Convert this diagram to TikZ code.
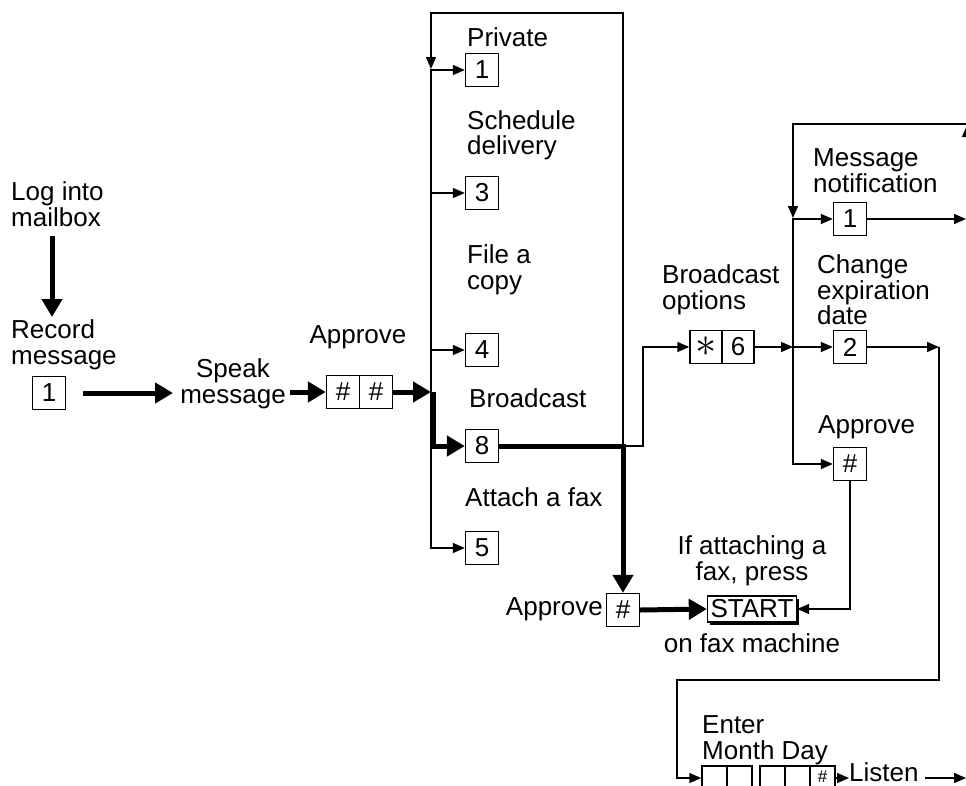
\documentclass[tikz,border=0pt]{standalone}
\usepackage{fontspec}
\setmainfont{Liberation Sans}
\usetikzlibrary{arrows.meta,shadows}
\begin{document}
\begin{tikzpicture}[x=1pt,y=-1pt,
  txt/.style={inner sep=0pt, font=\fontsize{26}{25.5}\selectfont},
  keybox/.style={draw, line width=1.4pt, minimum width=33pt, minimum height=33pt, inner sep=0pt, font=\fontsize{26}{26}\selectfont},
  datebox/.style={draw, line width=1.4pt, minimum width=25pt, minimum height=24pt, inner sep=0pt},
  ln/.style={line width=1.4pt},
  lnarr/.style={ln, -{Triangle[length=12pt,width=10pt]}},
  thk/.style={line width=5pt},
  thkarr/.style={thk, -{Triangle[length=18pt,width=20pt]}}]
\useasboundingbox (0,0) rectangle (966,785);
\clip (0,0) rectangle (966,785);

% left part
\node[txt,anchor=west,align=left] (login) at (11,204) {Log into\\mailbox};
\node[txt,anchor=west,align=left] (record) at (11,345) {Record\\message};
\node[keybox] (r1) at (49,393) {1};
\node[txt,align=center] (speak) at (233,384) {Speak\\message};
\node[txt] (apv1) at (358,337) {Approve};
\node[keybox] (ha) at (343,392) {\#};
\node[keybox] (hb) at (376,392) {\#};

% options column
\node[txt,anchor=west] (tpriv) at (467,37) {Private};
\node[keybox] (p1) at (482,70) {1};
\node[txt,anchor=west,align=left] (tsched) at (467,135.5) {Schedule\\delivery};
\node[keybox] (p3) at (482,193) {3};
\node[txt,anchor=west,align=left] (tfile) at (467,270) {File a\\copy};
\node[keybox] (p4) at (482,350) {4};
\node[txt,anchor=west] (tbroad) at (469,398) {Broadcast};
\node[keybox] (p8) at (482,446) {8};
\node[txt,anchor=west] (tattach) at (465,497) {Attach a fax};
\node[keybox] (p5) at (482,548) {5};

% approve / start
\node[keybox] (hl) at (623,610) {\#};
\node[txt,anchor=east] (apv2) at (603,609) {Approve};
\node[keybox, minimum width=89pt, minimum height=26pt, fill=white,
      drop shadow={shadow xshift=2.5pt, shadow yshift=-2.5pt, opacity=1, fill=black}] (start) at (752,609) {START};
\node[txt,align=center] (ifatt) at (752,561) {If attaching a\\fax, press};
\node[txt] (onfax) at (752,643) {on fax machine};

% broadcast options
\node[txt,anchor=west,align=left] (bopt) at (662,290) {Broadcast\\options};
\node[keybox,minimum width=32pt] (s1) at (706,347) {\scalebox{1.7}{$\ast$}};
\node[keybox,minimum width=32pt] (s2) at (738,347) {6};
\node[txt,anchor=west,align=left] (mnot) at (813,170.5) {Message\\notification};
\node[keybox] (n1) at (850,219) {1};
\node[txt,anchor=west,align=left] (cexp) at (817,290) {Change\\expiration\\date};
\node[keybox] (c2) at (850,347) {2};
\node[txt,anchor=west] (apv3) at (818,427) {Approve};
\node[keybox] (hr) at (850,464) {\#};

% date entry
\node[txt,anchor=west,align=left] (enter) at (702,740) {Enter\\Month Day};
\node[datebox] (e1) at (714.5,778) {};
\node[datebox] (e2) at (739.5,778) {};
\node[datebox] (e3) at (772.5,778) {};
\node[datebox] (e4) at (797.5,778) {};
\node[datebox] (e5) at (822.5,778) {};
\node[inner sep=0pt, font=\fontsize{17}{17}\selectfont] (e5t) at (822.5,777) {\#};
\node[txt,anchor=west] (listen) at (849,772) {Listen};

% coordinates
\coordinate (lgA) at (52,236);
\coordinate (lgB) at (52,317);
\coordinate (spkin) at (173,393);
\coordinate (spkout) at (290,392);
\coordinate (busin) at (431,392);
\coordinate (busv) at (433,392);
\coordinate (lbTop) at (431,13);
\coordinate (rbTop) at (623,13);
\coordinate (j8) at (623,446);
\coordinate (lbArr) at (431,69);
\coordinate (bo) at (643,446);
\coordinate (rbL) at (793,124);
\coordinate (rbR) at (966,124);
\coordinate (rbArr) at (793,218);
\coordinate (n1out) at (966,219);
\coordinate (c2out) at (939,347);
\coordinate (dr) at (939,680);
\coordinate (dl) at (677,680);
\coordinate (lstart) at (925,778);
\coordinate (lend) at (966,778);
\coordinate (ua1) at (967,150);
\coordinate (ua2) at (967,125);

% thick main flow
\draw[thkarr] (lgA) -- (lgB);
\draw[thkarr] ([xshift=17pt]r1.east) -- (spkin);
\draw[thkarr] (spkout) -- (ha.west);
\draw[thkarr] (hb.east) -- (busin);
\draw[thkarr] (busv) |- (p8.west);
\draw[thkarr] (p8.east) -| (hl.north);
\draw[thkarr] (hl.east) -- (start.west);

% left bus
\draw[lnarr] (j8) -- (rbTop) -- (lbTop) -- (lbArr);
\draw[lnarr] (lbArr) |- (p5.west);
\foreach \b in {p1,p3,p4} \draw[lnarr] (\b.west -| lbTop) -- (\b.west);

% broadcast options branch
\draw[lnarr] (j8) -- (bo) |- (s1.west);
\draw[lnarr] (s2.east) -- (c2.west -| rbL);

% right bus
\draw[lnarr] (rbR) -- (rbL) -- (rbArr);
\draw[lnarr] (rbArr) |- (hr.west);
\draw[lnarr] (n1.west -| rbL) -- (n1.west);
\draw[lnarr] (c2.west -| rbL) -- (c2.west);
\draw[lnarr] (n1.east) -- (n1out);
\draw[lnarr] (c2.east) -- (c2out);
\draw[lnarr] (c2out) -- (dr) -- (dl) |- (e1.west);
\draw[lnarr] (hr.south) |- (start.east);
\draw[lnarr] (ua1) -- (ua2);

% listen
\draw[lnarr] (e5.east) -- (e5.east -| listen.west);
\draw[lnarr] (lstart) -- (lend);
\end{tikzpicture}
\end{document}
